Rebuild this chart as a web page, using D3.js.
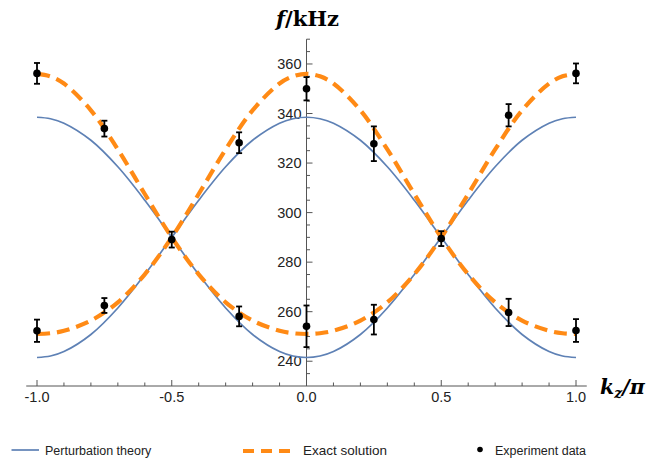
<!DOCTYPE html>
<html><head><meta charset="utf-8">
<script src="https://cdn.jsdelivr.net/npm/d3@7"></script>
<style>
html,body{margin:0;padding:0;background:#fff;}
svg{display:block;}
</style></head>
<body><svg id="chart" width="648" height="464"></svg>
<script>
// ---- data ----
const kGrid = [-1.0,-0.95,-0.9,-0.8,-0.7,-0.6,-0.5,-0.4,-0.3,-0.2,-0.1,-0.05,0.0,0.05,0.1,0.2,0.3,0.4,0.5,0.6,0.7,0.8,0.9,0.95,1.0];
const pertUpper  = [241.5,242.1,243.9,250.8,261.5,275.0,290.0,305.0,318.5,329.2,336.1,337.9,338.5,337.9,336.1,329.2,318.5,305.0,290.0,275.0,261.5,250.8,243.9,242.1,241.5];
const pertLower  = [338.5,337.9,336.1,329.2,318.5,305.0,290.0,275.0,261.5,250.8,243.9,242.1,241.5,242.1,243.9,250.8,261.5,275.0,290.0,305.0,318.5,329.2,336.1,337.9,338.5];
const exactUpper = [251.0,251.3,252.3,256.4,263.8,275.1,290.0,307.5,325.5,341.3,352.1,355.0,356.0,355.0,352.1,341.3,325.5,307.5,290.0,275.1,263.8,256.4,252.3,251.3,251.0];
const exactLower = [356.0,355.0,352.1,341.3,325.5,307.5,290.0,275.1,263.8,256.4,252.3,251.3,251.0,251.3,252.3,256.4,263.8,275.1,290.0,307.5,325.5,341.3,352.1,355.0,356.0];
const expK   = [-1.0,-1.0,-0.75,-0.75,-0.5,-0.25,-0.25,0.0,0.0,0.25,0.25,0.5,0.75,0.75,1.0,1.0];
const expF   = [356.2,252.3,333.9,262.5,289.1,328.2,258.1,350.0,254.1,327.8,256.8,289.5,339.3,259.7,356.2,252.4];
const expErr = [4.2,4.5,3.2,3.0,3.2,4.2,4.0,4.7,8.4,7.0,6.0,3.0,4.5,5.5,4.0,4.6];
const xTickLabels = ["-1.0","-0.5","0.0","0.5","1.0"];
const xTickValues = [-1.0,-0.5,0.0,0.5,1.0];
const yTickValues = [240,260,280,300,320,340,360];
const legendLabels = ["Perturbation theory","Exact solution","Experiment data"];

// ---- layout ----
const svg = d3.select("#chart");
const x = d3.scaleLinear().domain([-1,1]).range([37,576]);
const y = d3.scaleLinear().domain([230,370]).range([386,39.2]);
const axisColor = "#555";
const blue = "#5E81B5", orange = "#FF8A15";
const sans = "'Liberation Sans', Arial, sans-serif";
const serif = "'DejaVu Serif', serif";
const x0 = x(0), yAxisBase = y(230);

// x axis line
svg.append("line").attr("x1",x(-1.04)).attr("x2",x(1.04)).attr("y1",yAxisBase).attr("y2",yAxisBase)
  .attr("stroke",axisColor).attr("stroke-width",1);
d3.range(-10,11).forEach(i=>{
  const v=i/10, major = (i%5===0);
  if (i===0) return;
  svg.append("line").attr("x1",x(v)).attr("x2",x(v)).attr("y1",yAxisBase).attr("y2",yAxisBase-(major?6:3.5))
    .attr("stroke",axisColor).attr("stroke-width",1);
});
svg.selectAll(".xl").data(xTickValues).enter().append("text")
  .attr("x",d=>x(d)).attr("y",402).attr("text-anchor","middle").style("font-family",sans)
  .attr("font-size",14.5).attr("fill","#222").text((d,i)=>xTickLabels[i]);

// y axis line
svg.append("line").attr("x1",x0).attr("x2",x0).attr("y1",yAxisBase).attr("y2",y(370))
  .attr("stroke",axisColor).attr("stroke-width",1);
d3.range(235,371,5).forEach(v=>{
  const major = (v%20===0);
  svg.append("line").attr("x1",x0).attr("x2",x0+(major?6:3.5)).attr("y1",y(v)).attr("y2",y(v))
    .attr("stroke",axisColor).attr("stroke-width",1);
});
svg.selectAll(".yl").data(yTickValues).enter().append("text")
  .attr("x",x0-5).attr("y",d=>y(d)+5).attr("text-anchor","end").style("font-family",sans)
  .attr("font-size",14.5).attr("fill","#222").text(d=>d);

// axis labels
const fl = svg.append("text").attr("x",x0+1).attr("y",26).attr("text-anchor","middle")
  .style("font-family",serif).attr("font-weight","bold").attr("font-size",21).attr("fill","#000");
fl.append("tspan").attr("font-style","italic").text("f");
fl.append("tspan").text("/kHz");
const kl = svg.append("text").attr("x",600).attr("y",394)
  .style("font-family",serif).attr("font-weight","bold").attr("font-style","italic").attr("font-size",20.5).attr("fill","#000");
kl.append("tspan").text("k");
kl.append("tspan").attr("font-size",14).attr("dy",4).text("z");
kl.append("tspan").attr("dy",-4).text("/π");

// curves
const line = d3.line().x((d,i)=>x(kGrid[i])).y(d=>y(d)).curve(d3.curveCatmullRom.alpha(0.5));
[pertUpper,pertLower].forEach(s=>{
  svg.append("path").attr("d",line(s)).attr("fill","none").attr("stroke",blue).attr("stroke-width",1.7);
});
[exactUpper,exactLower].forEach(s=>{
  svg.append("path").attr("d",line(s)).attr("fill","none").attr("stroke",orange).attr("stroke-width",4.2)
    .attr("stroke-dasharray","13,7");
});

// experiment points with error bars
const pts = expK.map((k,i)=>({k, f:expF[i], e:expErr[i]}));
const g = svg.append("g");
pts.forEach(p=>{
  const cx = x(p.k), y1 = y(p.f+p.e), y2 = y(p.f-p.e);
  g.append("line").attr("x1",cx).attr("x2",cx).attr("y1",y1).attr("y2",y2).attr("stroke","#000").attr("stroke-width",1.8);
  [y1,y2].forEach(yy=>g.append("line").attr("x1",cx-3).attr("x2",cx+3).attr("y1",yy).attr("y2",yy).attr("stroke","#000").attr("stroke-width",1.8));
  g.append("circle").attr("cx",cx).attr("cy",y(p.f)).attr("r",3.8).attr("fill","#000");
});

// legend
const ly = 450;
svg.append("line").attr("x1",11.5).attr("x2",39).attr("y1",ly).attr("y2",ly).attr("stroke",blue).attr("stroke-width",1.7);
svg.append("text").attr("x",45).attr("y",ly+4.5).style("font-family",sans).attr("font-size",12.5).attr("fill","#222").text(legendLabels[0]);
svg.append("line").attr("x1",243).attr("x2",290).attr("y1",ly+1).attr("y2",ly+1).attr("stroke",orange).attr("stroke-width",4)
  .attr("stroke-dasharray","11,7");
svg.append("text").attr("x",303).attr("y",ly+5).style("font-family",sans).attr("font-size",13.5).attr("fill","#222").text(legendLabels[1]);
svg.append("circle").attr("cx",480).attr("cy",ly-0.5).attr("r",2.8).attr("fill","#000");
svg.append("text").attr("x",495).attr("y",ly+4.5).style("font-family",sans).attr("font-size",12.5).attr("fill","#222").text(legendLabels[2]);
</script>
</body></html>
